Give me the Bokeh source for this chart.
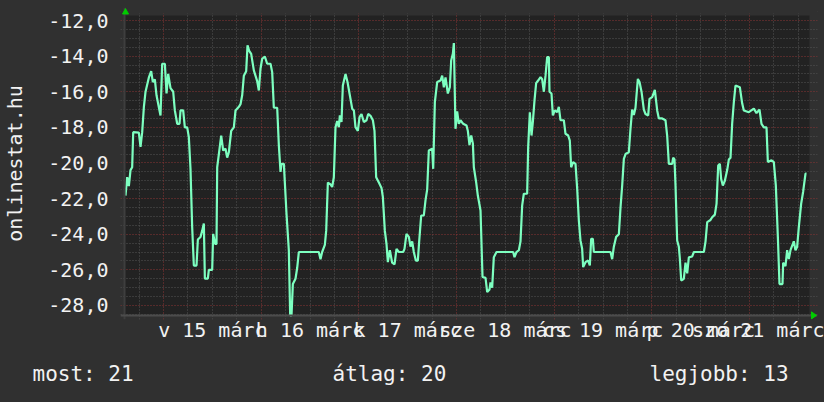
from bokeh.plotting import figure
from bokeh.models import FixedTicker, Grid, Label, PolyAnnotation, BoxAnnotation, Span, Range1d
from bokeh.embed import file_html
from bokeh.resources import INLINE

# hours since 2015-03-15 00:00 and measured value
hours = [-9.34, -8.93, -8.52, -8.11, -7.70, -7.45, -6.06, -5.65, -5.24, -4.83, -4.42, -3.60, -3.03,
         -2.62, -2.13, -1.72, -1.15, -0.74, -0.33, 0.33, 0.74, 1.15, 1.72, 2.38, 2.78, 3.36, 3.93,
         4.18, 4.83, 5.24, 5.82, 6.22, 6.63, 7.04, 7.45, 8.11, 8.44, 9.09, 9.50, 9.91, 10.16, 10.89,
         11.14, 11.96, 12.20, 12.69, 13.02, 13.19, 13.60, 14.17, 14.66, 15.23, 15.64, 16.05, 16.63,
         17.28, 17.69, 18.51, 18.92, 19.33, 19.74, 20.31, 20.64, 21.05, 21.54, 22.19, 23.01, 23.42,
         23.83, 24.24, 24.90, 25.47, 26.29, 26.70, 27.11, 27.93, 28.34, 28.75, 28.99, 29.57, 29.81,
         30.22, 30.79, 31.12, 31.45, 31.78, 32.43, 32.84, 33.25, 38.16, 38.57, 38.98, 39.64, 39.97,
         40.38, 41.03, 41.44, 41.85, 42.26, 42.67, 43.08, 43.33, 43.73, 44.06, 44.72, 45.21, 45.78,
         46.36, 46.77, 47.17, 47.75, 48.16, 48.65, 49.22, 49.88, 50.29, 50.86, 51.44, 51.84, 52.25,
         52.91, 53.56, 53.89, 54.38, 54.79, 55.12, 55.61, 56.18, 56.76, 57.25, 57.82, 58.89, 59.21,
         59.70, 60.28, 60.69, 61.10, 61.50, 62.00, 62.49, 62.82, 63.31, 63.96, 64.37, 64.78, 65.19,
         66.01, 66.26, 66.67, 67.24, 68.06, 68.47, 68.88, 69.29, 69.86, 70.35, 70.68, 71.09, 71.34,
         71.74, 72.15, 72.56, 72.97, 73.63, 74.45, 74.78, 75.18, 75.60, 76.01, 76.25, 76.83, 77.23,
         77.89, 78.38, 79.12, 79.53, 80.10, 80.34, 80.75, 81.16, 81.82, 85.91, 86.24, 86.73, 87.31,
         87.72, 88.12, 88.53, 89.35, 89.60, 90.01, 90.42, 90.75, 91.15, 91.56, 92.05, 92.63, 93.04,
         93.45, 93.86, 94.27, 94.68, 94.84, 95.33, 95.66, 96.15, 96.72, 97.13, 97.54, 98.36, 98.77,
         99.43, 99.83, 100.16, 100.65, 101.23, 101.64, 102.05, 102.45, 102.86, 103.11, 103.69,
         104.34, 104.75, 105.08, 105.49, 105.73, 109.83, 110.24, 110.65, 111.22, 111.88, 112.29,
         112.70, 113.11, 113.52, 114.33, 114.74, 115.15, 115.56, 115.97, 116.55, 116.96, 117.45,
         118.02, 118.43, 119.09, 119.41, 120.07, 120.72, 121.30, 121.71, 122.53, 123.34, 123.75,
         124.16, 124.98, 125.23, 125.55, 125.80, 126.21, 126.62, 126.87, 127.20, 127.85, 128.26,
         128.67, 129.08, 129.90, 130.31, 132.77, 133.18, 133.59, 134.40, 134.81, 135.47, 135.88,
         136.29, 136.70, 137.02, 137.43, 137.92, 138.50, 138.91, 139.32, 139.72, 140.13, 140.54,
         141.61, 142.18, 142.59, 143.82, 145.05, 145.70, 146.44, 146.93, 147.51, 148.16, 148.49,
         149.39, 149.96, 150.45, 150.95, 151.35, 152.09, 152.25, 152.82, 153.23, 153.64, 154.05,
         154.87, 155.28, 155.69, 156.10, 156.67, 157.17, 157.74, 157.99]
values = [-21.83, -20.8, -21.3, -20.4, -20.24, -18.27, -18.3, -19.1, -18.27, -16.87, -16.0, -15.2, -14.85,
          -15.46, -15.3, -16.2, -16.87, -17.33, -14.43, -14.43, -16.1, -15.0, -15.8, -16.0, -17.05, -17.8, -17.8,
          -17.05, -17.05, -18.0, -18.0, -18.55, -20.33, -23.6, -25.76, -25.76, -24.3, -24.16, -23.8, -23.4, -26.5, -26.5,
          -26.0, -26.0, -23.98, -24.55, -24.55, -20.24, -19.5, -18.46, -19.3, -19.2, -19.7, -19.4, -18.2,
          -18.0, -17.05, -16.85, -16.7, -16.2, -15.1, -14.85, -13.4, -13.7, -13.87, -14.8, -15.4, -15.93,
          -14.71, -14.15, -14.02, -14.43, -14.43, -14.9, -16.9, -16.9, -19.02, -20.5, -20.05, -20.05, -21.1,
          -22.85, -24.9, -28.56, -28.56, -26.8, -26.5, -25.9, -25.0, -25.0, -25.4, -25.0, -24.6, -23.8,
          -21.1, -21.2, -21.35, -20.8, -17.99, -17.65, -17.99, -17.33, -17.7, -15.65, -15.0, -15.45, -16.2,
          -16.95, -17.05, -17.99, -18.2, -17.43, -17.25, -17.7, -17.6, -17.25, -17.35, -17.6, -18.2, -20.8,
          -21.1, -21.4, -21.9, -23.8, -24.55, -25.57, -24.9, -25.6, -25.7, -24.82, -25.0, -25.0, -24.82,
          -23.98, -24.15, -24.7, -24.4, -25.0, -25.48, -25.48, -24.4, -22.95, -22.95, -22.1, -21.5, -19.3,
          -19.2, -20.33, -16.59, -15.46, -15.37, -15.1, -15.75, -15.2, -16.1, -15.75, -14.25, -13.87, -13.27,
          -18.08, -17.1, -17.8, -17.6, -17.8, -17.9, -18.2, -19.0, -18.46, -18.9, -20.24, -21.1, -21.83,
          -22.67, -26.4, -26.45, -27.25, -27.1, -26.7, -27.0, -25.29, -25.0, -25.0, -25.29, -25.0, -24.9,
          -24.4, -22.4, -21.73, -21.73, -19.1, -17.15, -18.46, -17.7, -16.5, -15.52, -15.37, -15.18, -15.3,
          -16.0, -15.1, -14.06, -14.06, -16.0, -16.1, -17.33, -17.05, -17.15, -16.85, -17.6, -17.6, -18.36,
          -18.46, -18.75, -20.24, -19.95, -20.05, -21.45, -23.23, -24.35, -24.82, -25.85, -25.57,
          -25.48, -25.75, -24.26, -24.26, -25.0, -25.0, -25.4, -24.7, -24.15, -24.0, -22.5,
          -21.26, -19.77, -19.5, -19.4, -18.08, -17.0, -17.3, -16.9, -15.28, -15.45, -16.0,
          -17.0, -17.25, -17.33, -16.4, -16.3, -15.9, -17.05, -17.5, -17.5, -17.6, -18.46,
          -20.05, -20.05, -19.7, -19.8, -21.26, -24.35, -24.7, -25.38, -26.6, -26.5, -25.6,
          -26.2, -25.3, -25.25, -25.0, -25.0, -24.4, -23.32, -23.2, -23.05, -22.9, -22.3,
          -20.14, -20.05, -20.9, -21.27, -21.0, -20.4, -19.8, -19.7, -17.8, -16.6, -15.65,
          -15.75, -16.65, -17.05, -17.15, -16.95, -17.2, -17.0, -17.8, -18.0, -18.0, -19.95,
          -19.85, -19.95, -21.26, -24.16, -26.8, -26.8, -25.6, -25.8, -24.9, -25.4, -24.9,
          -24.4, -24.9, -24.7, -23.6, -22.3, -21.6, -20.6, -20.6]

y_ticks = [-28, -26, -24, -22, -20, -18, -16, -14, -12]
y_tick_labels = ["-28,0", "-26,0", "-24,0", "-22,0", "-20,0", "-18,0", "-16,0", "-14,0", "-12,0"]
day_noons = [12, 36, 60, 84, 108, 132, 156]
day_labels = ["v 15 márc", "h 16 márc", "k 17 márc", "sze 18 márc", "cs 19 márc", "p 20 márc", "szo 21 márc"]
summary_labels = ["most: 21", "átlag: 20", "legjobb: 13"]
y_title = "onlinestat.hu"

FONT = "DejaVu Sans Mono"
TXT = "#f2f2f2"
OUTER = "#303030"
PLOTBG = "#222222"
GREEN = "#00cc00"

# graph area (data units) and slightly larger frame for axis arrows
gx0, gx1 = -9.58, 158.7
gy0, gy1 = -28.56, -11.72
fx0, fx1 = -10.57, 160.69
fy0, fy1 = -28.79, -11.27

p = figure(width=824, height=350, output_backend="svg", toolbar_location=None,
           x_range=Range1d(fx0, fx1), y_range=Range1d(fy0, fy1),
           min_border_left=120, min_border_right=7, min_border_top=7, min_border_bottom=31)
p.background_fill_color = OUTER
p.border_fill_color = OUTER
p.outline_line_color = None

p.add_layout(BoxAnnotation(left=gx0, right=gx1, bottom=gy0, top=gy1, fill_color=PLOTBG,
                           fill_alpha=1, line_color=None, level="image"))

# grids
minor_x = [h for h in range(-6, 160, 6) if h % 24 != 0]
major_x = [h for h in range(0, 160, 24)]
minor_y = [v / 2 for v in range(-57, -22) if v % 4 != 0]
p.xgrid.ticker = FixedTicker(ticks=minor_x)
p.ygrid.ticker = FixedTicker(ticks=minor_y)
for g in (p.xgrid[0], p.ygrid[0]):
    g.grid_line_color = "#555555"
    g.grid_line_dash = "1 2"
    g.grid_line_width = 1
p.add_layout(Grid(dimension=0, ticker=FixedTicker(ticks=major_x), grid_line_color="#8a3535",
                  grid_line_dash="1 2", grid_line_width=1))
p.add_layout(Grid(dimension=1, ticker=FixedTicker(ticks=y_ticks), grid_line_color="#8a3535",
                  grid_line_dash="1 2", grid_line_width=1))

p.line(hours, values, line_color="#7dffc0", line_width=2.2)

# mask the grid above graph area, axis lines, arrows
p.add_layout(BoxAnnotation(bottom=-11.607, fill_color=OUTER, fill_alpha=1, line_color=None))
p.add_layout(Span(location=gx0, dimension="height", line_color="#3e3e3e", line_width=2))
p.add_layout(Span(location=gy0, dimension="width", line_color="#4c4c4c", line_width=2))
p.add_layout(PolyAnnotation(xs=[-10.07, -9.34, -8.60], ys=[-11.635, -11.33, -11.635],
                            fill_color=GREEN, fill_alpha=1, line_color=GREEN, line_alpha=1))
p.add_layout(PolyAnnotation(xs=[159.21, 160.44, 159.21], ys=[-28.36, -28.56, -28.76],
                            fill_color=GREEN, fill_alpha=1, line_color=GREEN, line_alpha=1))

# x axis
xa = p.xaxis[0]
xa.ticker = FixedTicker(ticks=day_noons)
xa.major_label_overrides = {t: l for t, l in zip(day_noons, day_labels)}
xa.major_tick_line_color = None
xa.minor_tick_line_color = None
xa.major_tick_out = 0
xa.major_tick_in = 0
xa.major_label_standoff = -2
xa.axis_line_color = None

# y axis
ya = p.yaxis[0]
ya.ticker = FixedTicker(ticks=y_ticks)
ya.major_label_overrides = {t: l for t, l in zip(y_ticks, y_tick_labels)}
ya.major_tick_line_color = None
ya.minor_tick_line_color = None
ya.major_tick_out = 0
ya.major_tick_in = 0
ya.major_label_standoff = 12
ya.axis_line_color = None
ya.axis_label = y_title
ya.axis_label_standoff = 18
ya.axis_label_text_font_style = "normal"

for ax in (xa, ya):
    ax.major_label_text_font = FONT
    ax.major_label_text_font_size = "20px"
    ax.major_label_text_color = TXT
    ax.axis_label_text_font = FONT
    ax.axis_label_text_font_size = "20px"
    ax.axis_label_text_color = TXT

# summary strip (separate root so its frame is not aligned with the graph's frame)
s = figure(width=824, height=52, output_backend="svg", toolbar_location=None,
           x_range=Range1d(0, 824), y_range=Range1d(0, 52),
           min_border_left=0, min_border_right=0, min_border_top=0, min_border_bottom=0)
s.axis.visible = False
s.grid.visible = False
s.background_fill_color = OUTER
s.border_fill_color = OUTER
s.outline_line_color = None
for txt, sx in zip(summary_labels, [32, 332, 649]):
    s.add_layout(Label(x=sx, y=29, x_units="screen", y_units="screen", text=txt, text_font=FONT,
                       text_font_size="21px", text_color=TXT, text_baseline="middle", text_align="left"))

html = file_html([p, s], INLINE)
html = html.replace("<head>", "<head><style>html,body{margin:0;padding:0;background-color:%s;}</style>" % OUTER, 1)
open("out.html", "w").write(html)
